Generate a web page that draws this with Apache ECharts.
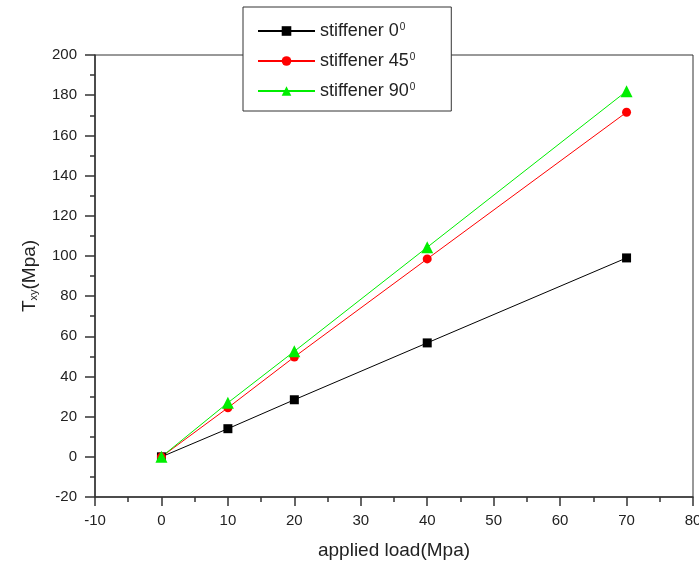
<!DOCTYPE html>
<html>
<head>
<meta charset="utf-8">
<script src="https://cdn.jsdelivr.net/npm/echarts@6/dist/echarts.min.js"></script>
<style>
  html, body, #main { width: 100%; height: 100%; margin: 0; background: #fff; }
</style>
</head>
<body>
<div id="main"></div>
<script>
// applied load values (Mpa)
var loads = [0, 10, 20, 40, 70];
// shear stress per stiffener angle
var stiff0 = [0, 14, 28.4, 56.7, 99];
var stiff45 = [0, 24.4, 49.7, 98.5, 171.5];
var stiff90 = [0, 26.9, 52.5, 104.3, 182];
var seriesNames = ['stiffener 0', 'stiffener 45', 'stiffener 90'];

function pairs(ys) {
  return loads.map(function (x, i) { return [x, ys[i]]; });
}

var chart = echarts.init(document.getElementById('main'));
var font = 'Arial, "Liberation Sans", sans-serif';

chart.setOption({
  animation: false,
  backgroundColor: '#fff',
  grid: {
    left: 95, right: 6, top: 55, bottom: 70,
    outerBoundsMode: 'none',
    show: true, borderColor: '#333', borderWidth: 1
  },
  legend: {
    left: 243, top: 7,
    orient: 'vertical',
    backgroundColor: '#fff',
    borderColor: '#333', borderWidth: 1,
    padding: [15, 36, 11, 14],
    itemWidth: 57, itemHeight: 12, itemGap: 12,
    data: seriesNames,
    formatter: function (n) { return '{a|' + n + '}{s|0}'; },
    textStyle: {
      rich: {
        a: { fontSize: 18, lineHeight: 18, fontFamily: font, color: '#222' },
        s: { fontSize: 10, lineHeight: 18, fontFamily: font, color: '#222', verticalAlign: 'top', padding: [0, 0, 0, 1] }
      }
    }
  },
  xAxis: {
    type: 'value', min: -10, max: 80, interval: 10,
    name: 'applied load(Mpa)', nameLocation: 'middle', nameGap: 44,
    nameTextStyle: { fontSize: 19, fontFamily: font, color: '#222' },
    axisLine: { onZero: false, lineStyle: { color: '#333', width: 1.5 } },
    axisTick: { length: 9, lineStyle: { color: '#333', width: 1.5 } },
    minorTick: { show: true, splitNumber: 2, length: 5, lineStyle: { color: '#333', width: 1.5 } },
    axisLabel: { fontSize: 15, fontFamily: font, color: '#222', margin: 16 },
    splitLine: { show: false }
  },
  yAxis: {
    type: 'value', min: -20, max: 200, interval: 20,
    name: '{t|T}{s|xy}{t|(Mpa)}', nameLocation: 'middle', nameGap: 56, nameRotate: 90,
    nameTextStyle: {
      rich: {
        t: { fontSize: 19, fontFamily: font, color: '#222' },
        s: { fontSize: 11, fontFamily: font, color: '#222', verticalAlign: 'bottom', padding: [7, 0, 0, 0] }
      }
    },
    axisLine: { onZero: false, lineStyle: { color: '#333', width: 1.5 } },
    axisTick: { length: 10, lineStyle: { color: '#333', width: 1.5 } },
    minorTick: { show: true, splitNumber: 2, length: 5, lineStyle: { color: '#333', width: 1.5 } },
    axisLabel: { fontSize: 15, fontFamily: font, color: '#222', margin: 18 },
    splitLine: { show: false }
  },
  series: [
    {
      name: seriesNames[0], type: 'line', data: pairs(stiff0),
      symbol: 'rect', symbolSize: 9,
      itemStyle: { color: '#000' }, lineStyle: { color: '#000', width: 1 }
    },
    {
      name: seriesNames[1], type: 'line', data: pairs(stiff45),
      symbol: 'circle', symbolSize: 9,
      itemStyle: { color: '#ff0000' }, lineStyle: { color: '#ff0000', width: 1 }
    },
    {
      name: seriesNames[2], type: 'line', data: pairs(stiff90),
      symbol: 'triangle', symbolSize: 12,
      itemStyle: { color: '#00ee00' }, lineStyle: { color: '#00ee00', width: 1 }
    }
  ]
});
</script>
</body>
</html>
